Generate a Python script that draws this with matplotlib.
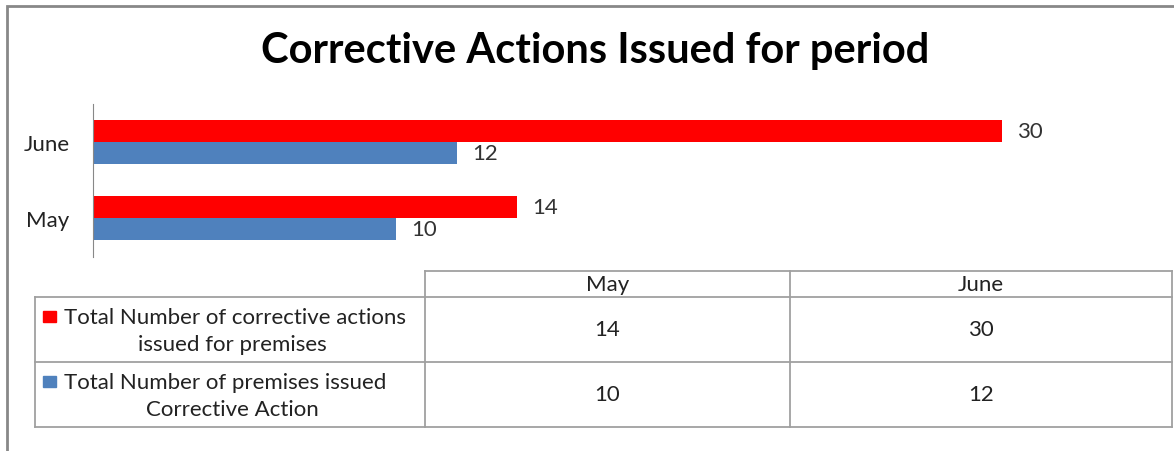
import matplotlib.pyplot as plt
from matplotlib.patches import Rectangle
from matplotlib.lines import Line2D

months = ["May", "June"]
series_names = [
    ["Total Number of corrective actions", "issued for premises"],
    ["Total Number of premises issued", "Corrective Action"],
]
corrective_actions = [14, 30]
premises_issued = [10, 12]
colors = ["#FF0000", "#4F81BD"]

W, H = 1174, 452
plt.rcParams["font.family"] = ["Lato", "DejaVu Sans"]

fig = plt.figure(figsize=(W / 100, H / 100), dpi=100)


def box(x0, y0, x1, y1):
    # pixel box (top-left origin) -> figure fraction rect
    return [x0 / W, 1 - y1 / H, (x1 - x0) / W, (y1 - y0) / H]


# outer frame
fig.patches.append(Rectangle((7 / W, -0.05), 1.05, 1 - 7 / H + 0.05,
                             transform=fig.transFigure, fill=False,
                             edgecolor="#888888", linewidth=2))

fig.text(595 / W, 1 - 51 / H, "Corrective Actions Issued for period",
         ha="center", va="center", fontsize=30, fontweight="bold")

# bar chart
ax = fig.add_axes(box(93, 104.5, 1002, 257.5))
h = 0.285
y = range(len(months))
series = [corrective_actions, premises_issued]
for i, vals in enumerate(series):
    offs = [k + h / 2 - i * h for k in y]
    ax.barh(offs, vals, height=h, color=colors[i])
    for yy, v in zip(offs, vals):
        ax.text(v + 0.5, yy, str(v), va="center", ha="left",
                fontsize=16, color="#333333")

ax.set_xlim(0, 30)
ax.set_ylim(-0.5, 1.5)
ax.set_yticks(list(y))
ax.set_yticklabels(months, fontsize=16, color="#222222")
ax.tick_params(axis="y", length=0, pad=17)
ax.set_xticks([])
for s in ["top", "right", "bottom"]:
    ax.spines[s].set_visible(False)
ax.spines["left"].set_color("#888888")

# data table
tx = fig.add_axes(box(0, 0, W, H), facecolor="none")
tx.set_xlim(0, W)
tx.set_ylim(H, 0)
tx.axis("off")

col_x = [35, 425, 790, 1172]
row_y = [272, 298, 363, 428]
lc = "#A0A0A0"


def seg(x0, y0, x1, y1):
    tx.add_line(Line2D([x0, x1], [y0, y1], color=lc, linewidth=1.3))


seg(col_x[1], row_y[0], col_x[3], row_y[0])
for yy in row_y[1:]:
    seg(col_x[0], yy, col_x[3], yy)
seg(col_x[0], row_y[1], col_x[0], row_y[3])
for xx in col_x[1:]:
    seg(xx, row_y[0], xx, row_y[3])

for j, m in enumerate(months):
    cx = (col_x[j + 1] + col_x[j + 2]) / 2
    tx.text(cx, (row_y[0] + row_y[1]) / 2, m, ha="center", va="center",
            fontsize=16, color="#222222")

for i, (name, vals) in enumerate(zip(series_names, series)):
    cy = (row_y[i + 1] + row_y[i + 2]) / 2
    tx.add_patch(Rectangle((43, cy - 18.5), 13, 11, color=colors[i]))
    tx.text(64, cy - 12.5, name[0], ha="left", va="center", fontsize=16,
            color="#222222")
    tx.text(232, cy + 14.5, name[1], ha="center", va="center", fontsize=16,
            color="#222222")
    for j, v in enumerate(vals):
        cx = (col_x[j + 1] + col_x[j + 2]) / 2
        tx.text(cx, cy, str(v), ha="center", va="center", fontsize=16,
                color="#222222")

fig.savefig("out.png", dpi=100)
